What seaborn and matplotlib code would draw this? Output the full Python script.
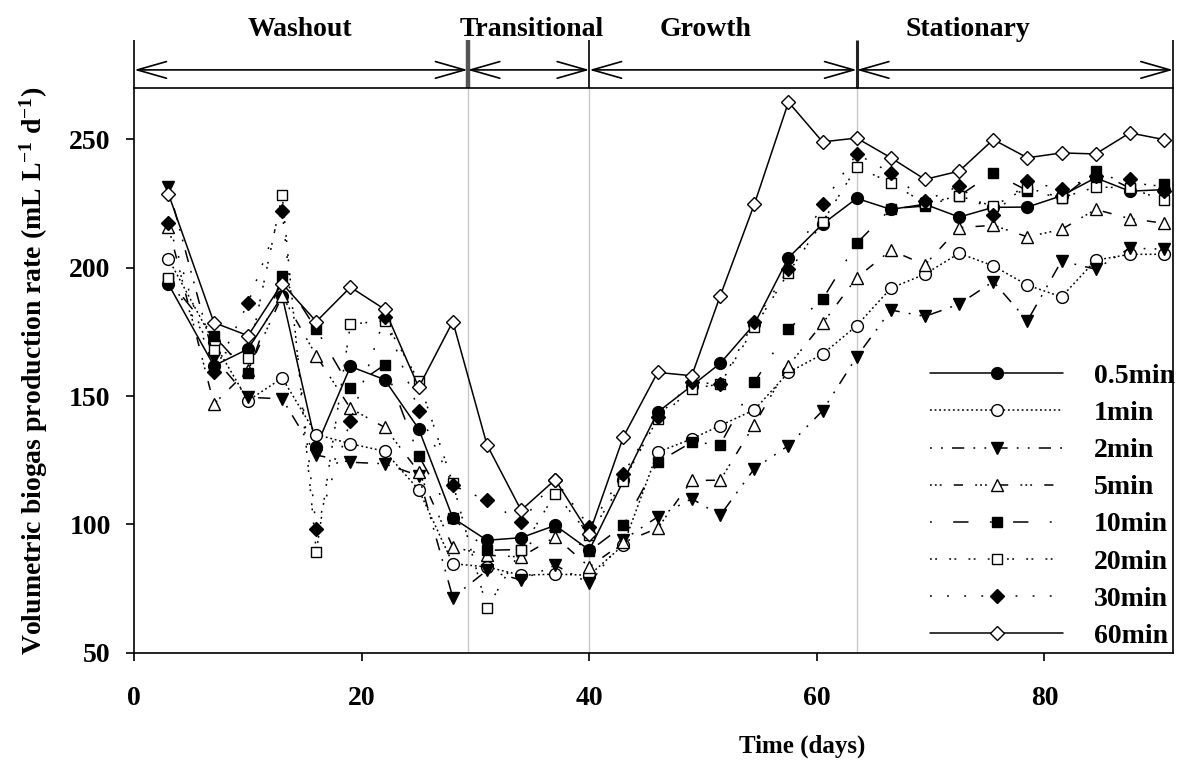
import matplotlib
matplotlib.use("Agg")
import matplotlib.pyplot as plt
import seaborn as sns

sns.set_theme(style="white")
plt.rcParams['font.family'] = ['Liberation Serif', 'DejaVu Serif']
plt.rcParams['font.weight'] = 'bold'
plt.rcParams['text.color'] = 'black'
plt.rcParams['axes.labelcolor'] = 'black'
plt.rcParams['xtick.color'] = 'black'
plt.rcParams['ytick.color'] = 'black'
plt.rcParams['mathtext.fontset'] = 'custom'
plt.rcParams['mathtext.rm'] = 'Liberation Serif:bold'
plt.rcParams['mathtext.bf'] = 'Liberation Serif:bold'
plt.rcParams['mathtext.default'] = 'bf'

# Sampling days
days = [3, 7, 10, 13, 16, 19, 22, 25, 28, 31, 34, 37, 40, 43, 46, 49, 51.5, 54.5,
        57.5, 60.5, 63.5, 66.5, 69.5, 72.5, 75.5, 78.5, 81.5, 84.5, 87.5, 90.5]

# Volumetric biogas production rate (mL L-1 d-1) per mixing duration
rate_05min = [193.6, 161.8, 168.3, 189.0, 130.3, 161.5, 156.4, 137.2, 102.5, 93.8, 94.8, 99.6, 90.0, 117.1, 143.7,
              154.0, 162.7, 178.0, 203.9, 217.0, 227.0, 222.7, 224.7, 219.7, 223.5, 223.6, 228.0, 235.0, 229.8, 230.4]
rate_1min = [203.5, 170.9, 148.2, 157.0, 135.0, 131.4, 128.5, 113.5, 84.7, 83.4, 80.2, 80.6, 80.2, 92.0, 128.1,
             133.3, 138.5, 144.6, 159.2, 166.3, 177.4, 192.0, 197.5, 205.6, 200.7, 193.2, 188.6, 202.9, 205.2, 205.2]
rate_2min = [231.4, 165.0, 149.5, 148.9, 127.0, 124.2, 123.6, 119.0, 71.5, 82.1, 78.3, 84.1, 77.0, 94.0, 102.9,
             110.0, 103.5, 121.7, 130.7, 144.3, 165.3, 183.5, 181.0, 185.8, 194.6, 179.3, 202.6, 199.4, 207.6, 207.2]
rate_5min = [216.0, 146.9, 160.0, 189.0, 165.7, 145.2, 137.8, 120.5, 91.2, 88.0, 87.3, 95.1, 83.4, 93.0, 98.5,
             117.1, 117.2, 138.9, 161.8, 178.3, 196.1, 206.8, 201.1, 215.6, 216.5, 212.0, 214.9, 222.7, 219.1, 217.3]
rate_10min = [195.5, 173.5, 158.8, 196.8, 176.0, 153.1, 162.1, 126.8, 102.5, 89.9, 90.2, 99.0, 89.6, 99.6, 124.2,
              132.0, 131.1, 155.3, 176.1, 187.7, 209.5, 223.0, 224.0, 228.0, 236.9, 230.0, 227.2, 237.6, 231.0, 232.4]
rate_20min = [196.0, 168.0, 164.7, 228.3, 89.3, 178.0, 179.3, 156.0, 116.0, 67.3, 90.0, 112.0, 96.0, 117.0, 141.1,
              152.8, 154.7, 176.7, 198.1, 217.8, 239.2, 233.1, 225.0, 227.9, 224.0, 231.1, 227.2, 231.4, 231.1, 226.2]
rate_30min = [217.3, 159.2, 186.2, 222.0, 98.3, 140.4, 180.6, 144.3, 115.2, 109.3, 100.9, 117.4, 99.0, 119.7, 142.0,
              155.3, 154.7, 179.0, 199.4, 224.9, 244.3, 236.9, 226.0, 231.8, 220.5, 233.7, 230.5, 235.7, 234.4, 230.0]
rate_60min = [228.8, 178.6, 173.5, 193.8, 179.0, 192.4, 183.8, 153.4, 179.0, 131.0, 105.5, 117.4, 96.4, 134.2, 159.2,
              157.9, 189.0, 224.7, 264.5, 249.0, 250.5, 242.8, 234.4, 237.6, 249.9, 242.8, 244.7, 244.3, 252.5, 249.9]

series_labels = ["0.5min", "1min", "2min", "5min", "10min", "20min", "30min", "60min"]
series_values = [rate_05min, rate_1min, rate_2min, rate_5min, rate_10min, rate_20min, rate_30min, rate_60min]

# Marker / line styling for each series
markers = ["o", "o", "v", "^", "s", "s", "D", "D"]
face = ["black", "white", "black", "white", "black", "white", "black", "white"]
msizes = [8.5, 8.5, 9, 9, 7.8, 7.8, 6.8, 6.8]
linestyles = ["-",
              (0, (1.2, 1.8)),
              (0, (1.2, 6, 1.2, 6, 8, 6)),
              (0, (1.2, 2, 1.2, 2, 1.2, 8, 6, 8)),
              (0, (1.2, 14, 10, 14)),
              (0, (1.2, 2.2, 1.2, 8)),
              (0, (1.2, 10)),
              "-"]

# Reactor phases
phase_names = ["Washout", "Transitional", "Growth", "Stationary"]
phase_bounds = [0, 29.3, 40, 63.5, 91.3]
phase_label_x = [14.6, 34.9, 50.2, 73.3]
bound_widths = [1.2, 3.2, 1.2, 2.2, 1.2]
bound_colors = ["black", "#555555", "black", "#222222", "black"]

fig = plt.figure(figsize=(11.85, 7.61), dpi=100)
fig.patch.set_facecolor("white")
ax = fig.add_axes([0.1133, 0.1423, 0.8766, 0.7421])

for b in phase_bounds[1:-1]:
    ax.axvline(b, color="#c8c8c8", lw=1.0, zorder=0)

for lab, vals, mk, fc, ms, ls in zip(series_labels, series_values, markers, face, msizes, linestyles):
    sns.lineplot(x=days, y=vals, ax=ax, color="black", marker=mk, markersize=ms,
                 markerfacecolor=fc, markeredgecolor="black", markeredgewidth=1.0,
                 linestyle=ls, linewidth=1.1, label=lab, errorbar=None)

ax.set_xlim(0, 91.3)
ax.set_ylim(50, 270)
ax.set_xticks([0, 20, 40, 60, 80])
ax.set_yticks([50, 100, 150, 200, 250])
ax.tick_params(axis="both", which="major", direction="out", length=6, width=1.2,
               labelsize=20, bottom=True, left=True, colors="black")
ax.tick_params(axis="x", pad=18)
ax.tick_params(axis="y", pad=11)
for lbl in ax.get_xticklabels() + ax.get_yticklabels():
    lbl.set_fontweight("bold")
for sp in ax.spines.values():
    sp.set_color("black")
    sp.set_linewidth(1.2)

ax.set_xlabel("Time (days)", fontsize=18, fontweight="bold")
ax.set_ylabel(r"Volumetric biogas production rate (mL L$^{-1}$ d$^{-1}$)", fontsize=20, fontweight="bold")
ax.yaxis.set_label_coords(-0.081, 0.5)
ax.xaxis.set_label_coords(0.643, -0.145)

# Phase annotation band above the plotting area
trans = ax.get_xaxis_transform()
for b, w, c in zip(phase_bounds, bound_widths, bound_colors):
    ax.plot([b, b], [1.0, 1.085], transform=trans, clip_on=False, color=c, lw=w,
            solid_capstyle="butt")
for i, name in enumerate(phase_names):
    ax.annotate("", xy=(phase_bounds[i + 1], 1.032), xytext=(phase_bounds[i], 1.032),
                xycoords=trans, textcoords=trans,
                arrowprops=dict(arrowstyle="<->,head_length=2.1,head_width=0.6",
                                mutation_scale=10, lw=1.2, color="black",
                                shrinkA=0, shrinkB=0))
    ax.text(phase_label_x[i], 1.103, name, transform=trans, ha="center", va="center",
            fontsize=20, fontweight="bold")

leg = ax.legend(loc="upper left", bbox_to_anchor=(0.766, 0.512), frameon=False,
                fontsize=20, handlelength=4.8, handletextpad=1.1, labelspacing=0.42,
                borderpad=0, borderaxespad=0, numpoints=1)
for t in leg.get_texts():
    t.set_fontweight("bold")

fig.savefig("out.png", dpi=100, facecolor="white")
